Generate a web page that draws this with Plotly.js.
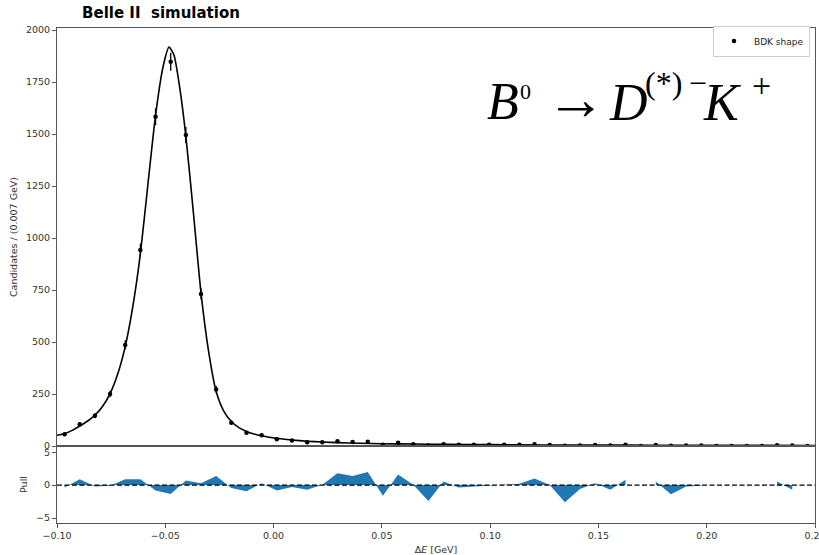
<!DOCTYPE html>
<html>
<head>
<meta charset="utf-8">
<script src="https://cdn.plot.ly/plotly-3.0.1.min.js"></script>
<style>html,body{margin:0;padding:0;background:#fff;}#chart{width:819px;height:555px;}</style>
</head>
<body>
<div id="chart"></div>
<script>
// Bin centres of Delta E (GeV), bin width 0.007 GeV
const binCenters = [-0.0965, -0.0895, -0.0825, -0.0755, -0.0685, -0.0615, -0.0545, -0.0475, -0.0405, -0.0335,
  -0.0265, -0.0195, -0.0125, -0.0055, 0.0015, 0.0085, 0.0155, 0.0225, 0.0295, 0.0365,
  0.0435, 0.0505, 0.0575, 0.0645, 0.0715, 0.0785, 0.0855, 0.0925, 0.0995, 0.1065,
  0.1135, 0.1205, 0.1275, 0.1345, 0.1415, 0.1485, 0.1555, 0.1625, 0.1695, 0.1765,
  0.1835, 0.1905, 0.1975, 0.2045, 0.2115, 0.2185, 0.2255, 0.2325, 0.2395, 0.2465];
// Candidates per bin (BDK shape)
const counts = [56, 104, 146, 250, 486, 942, 1583, 1848, 1495, 731,
  272, 112, 64, 52, 32, 26, 18, 18, 23, 19,
  20, 6, 16, 9, 2, 9, 6, 6, 6, 6,
  6, 8, 5, 1, 3, 5, 3, 6, 0, 5,
  1, 3, 3, 0, 0, 0, 0, 4, 2, 0];
// Pull per bin (null = not drawn)
const pulls = [-0.35, 0.9, -0.2, -0.1, 0.9, 0.9, -0.8, -1.35, 0.7, 0.3,
  1.4, -0.45, -0.95, 0.3, -0.8, -0.3, -0.7, 0.05, 1.8, 1.4,
  2.0, -1.6, 1.6, 0.05, -2.4, 0.55, -0.35, -0.2, -0.1, 0.0,
  0.2, 1.0, 0.0, -2.6, -0.6, 0.3, -0.7, 0.8, null, 0.55,
  -1.4, -0.2, -0.1, null, null, null, null, 0.55, -0.7, null];
// Fitted shape
const fitX = [-0.100, -0.0965, -0.093, -0.0895, -0.086, -0.0825, -0.079, -0.0755, -0.072, -0.0685,
  -0.065, -0.0615, -0.058, -0.0545, -0.051, -0.0483, -0.046, -0.0435, -0.0405, -0.037,
  -0.0335, -0.030, -0.0265, -0.023, -0.0195, -0.016, -0.0125, -0.009, -0.0055, -0.002,
  0.0015, 0.0085, 0.0155, 0.0225, 0.0295, 0.040, 0.050, 0.065, 0.080, 0.100,
  0.125, 0.150, 0.175, 0.200, 0.225, 0.250];
const fitY = [52, 59, 75, 96, 119, 148, 190, 252, 345, 478,
  670, 925, 1260, 1590, 1825, 1918, 1880, 1735, 1490, 1120,
  735, 455, 262, 168, 118, 88, 70, 58, 49, 42,
  37, 29, 23, 19, 16, 13, 11, 9.3, 7.7, 6.4,
  5.1, 4.4, 3.8, 3.3, 2.9, 2.6];
const yTicks = [0, 250, 500, 750, 1000, 1250, 1500, 1750, 2000];
const pullTicks = [-5, 0, 5];
const xTicks = [-0.10, -0.05, 0.00, 0.05, 0.10, 0.15, 0.20, 0.25];

const FONT = 'DejaVu Sans, sans-serif';
const L = 57, R = 815, T = 28, B = 523;
const px = v => (v - L) / (R - L);
const py = v => (B - v) / (B - T);

// split the pull series into contiguous runs (gaps where the pull is missing)
const pullRuns = [];
let run = null;
pulls.forEach((p, i) => {
  if (p === null) { run = null; return; }
  if (!run) { run = {x: [], y: []}; pullRuns.push(run); }
  run.x.push(binCenters[i]); run.y.push(p);
});

const traces = [
  {x: fitX, y: fitY, type: 'scatter', mode: 'lines', line: {color: '#000', width: 1.6, shape: 'spline', smoothing: 0.6},
   xaxis: 'x', yaxis: 'y', showlegend: false, hoverinfo: 'skip'},
  {x: binCenters, y: counts, type: 'scatter', mode: 'markers', name: 'BDK shape',
   marker: {color: '#000', size: 4.5},
   error_y: {type: 'sqrt', visible: true, color: '#000', thickness: 1.3, width: 0},
   xaxis: 'x', yaxis: 'y', showlegend: true}
].concat(pullRuns.map(r => ({
  x: r.x, y: r.y, type: 'scatter', mode: 'lines', fill: 'tozeroy', fillcolor: '#1f77b4',
  line: {color: '#1f77b4', width: 0}, xaxis: 'x2', yaxis: 'y2', showlegend: false
})));

const axisCommon = {showline: true, mirror: true, linecolor: '#555', linewidth: 1, showgrid: false, zeroline: false,
  ticks: 'outside', ticklen: 4, tickcolor: '#555', tickfont: {family: FONT, size: 9.5, color: '#333'},
  automargin: false, ticklabeloverflow: 'allow'};

const serif = 'Liberation Serif, Times New Roman, serif';
const ann = (text, xpx, ypx, size, italic, fam) => ({
  text: italic ? '<i>' + text + '</i>' : text, xref: 'paper', yref: 'paper', x: px(xpx), y: py(ypx),
  xanchor: 'left', yanchor: 'middle', showarrow: false, borderpad: 0,
  font: {family: fam || serif, size: size, color: '#000'}
});

const layout = {
  width: 819, height: 555,
  margin: {l: L, r: 819 - R, t: T, b: 555 - B, pad: 0},
  paper_bgcolor: '#fff', plot_bgcolor: '#fff',
  title: {text: '<b>Belle II\u00a0\u00a0simulation</b>', font: {family: FONT, size: 15, color: '#000'},
    xref: 'paper', x: px(161), xanchor: 'center', yref: 'container', y: 1 - 13 / 555, yanchor: 'middle'},
  xaxis: Object.assign({}, axisCommon, {domain: [0, 1], range: [-0.10, 0.25], anchor: 'y', matches: 'x2',
    showticklabels: false, ticks: ''}),
  yaxis: Object.assign({}, axisCommon, {domain: [py(446), 1], range: [0, 2010], tickvals: yTicks, anchor: 'x',
    title: {text: 'Candidates / (0.007 GeV)', font: {family: FONT, size: 9.5, color: '#333'}, standoff: 6}}),
  xaxis2: Object.assign({}, axisCommon, {domain: [0, 1], range: [-0.10, 0.25], anchor: 'y2', tickvals: xTicks,
    tickformat: '.2f', title: {text: 'Δ<i>E</i> [GeV]', font: {family: FONT, size: 9.5, color: '#333'}, standoff: 6}}),
  yaxis2: Object.assign({}, axisCommon, {domain: [0, py(446)], range: [-5.76, 5.95], tickvals: pullTicks, anchor: 'x2',
    title: {text: 'Pull', font: {family: FONT, size: 9.5, color: '#333'}, standoff: 6}}),
  legend: {x: px(810), xanchor: 'right', y: py(41), yanchor: 'middle', bgcolor: '#fff', bordercolor: '#d0d0d0', borderwidth: 1,
    font: {family: FONT, size: 9, color: '#222'}, itemwidth: 30},
  shapes: [{type: 'line', xref: 'paper', x0: 0, x1: 1, yref: 'y2', y0: 0, y1: 0,
    line: {color: '#000', width: 1.3, dash: '5px,2.5px'}}],
  annotations: [
    ann('B', 486, 101.5, 52, true),
    ann('0', 519, 91.6, 22, false),
    ann('\u2192', 545, 99, 60, false),
    ann('D', 608, 102.5, 52, true),
    ann('(*)\u2009\u2212', 644, 83, 32, false),
    ann('K', 702, 102.5, 52, true),
    ann('+', 751, 86, 34, false)
  ]
};

Plotly.newPlot('chart', traces, layout, {displayModeBar: false, staticPlot: true});
</script>
</body>
</html>
